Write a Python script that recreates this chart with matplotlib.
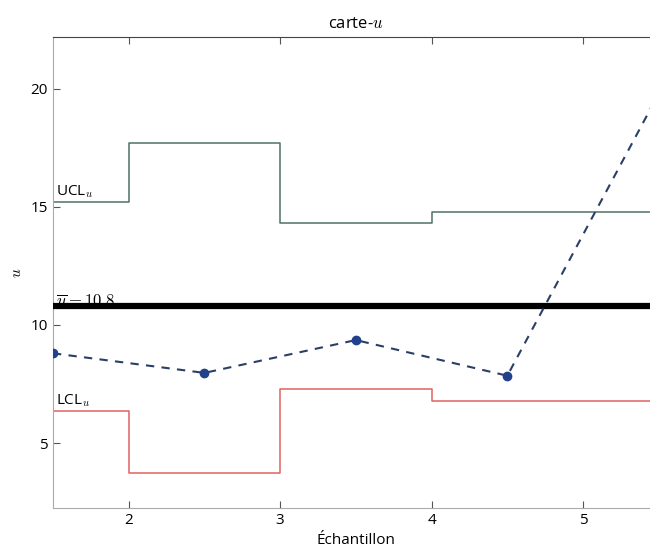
import matplotlib
matplotlib.use("Agg")
import matplotlib.pyplot as plt
import numpy as np

plt.rcParams['font.family'] = ['Open Sans', 'DejaVu Sans']
plt.rcParams['mathtext.fontset'] = 'cm'

# ── données ──────────────────────────────────────────────────────────────
echantillons = [1.5, 2.5, 3.5, 4.5, 5.5]
u_valeurs    = [8.8, 7.97, 9.36, 7.85, 19.8]
ucl          = [15.2, 17.7, 14.3, 14.8, 14.8]
lcl          = [6.35, 3.75, 7.3, 6.8, 6.8]
u_barre      = 10.8

x_ticks = [2, 3, 4, 5]
y_ticks = [5, 10, 15, 20]

# ── figure ───────────────────────────────────────────────────────────────
fig = plt.figure(figsize=(6.5, 5.53), dpi=100)
ax = fig.add_axes([0.0815, 0.0814, 0.932, 0.852])

ax.step(echantillons, ucl, where="mid", color="#4f7268", lw=1.1, zorder=2)
ax.step(echantillons, lcl, where="mid", color="#e0625f", lw=1.1, zorder=2)
ax.axhline(u_barre, color="black", lw=4.5, zorder=3)
ax.plot(echantillons, u_valeurs, ls="--", dashes=(4, 3.5), color="#2b3f66", lw=1.5,
        marker="o", ms=6, mfc="#21428a", mec="#21428a", zorder=4)

ax.text(1.52, ucl[0] + 0.1, "UCL$_u$", fontsize=11, ha="left", va="bottom", zorder=1)
ax.text(1.52, u_barre - 0.2, r"$\overline{u}=10.8$", fontsize=12, ha="left", va="bottom", zorder=1)
ax.text(1.52, lcl[0] + 0.1, "LCL$_u$", fontsize=11, ha="left", va="bottom", zorder=1)

ax.set_xlim(1.5, 5.5)
ax.set_ylim(2.25, 22.2)
ax.set_xticks(x_ticks)
ax.set_yticks(y_ticks)
ax.tick_params(direction="in", top=True, right=True, length=5, labelsize=11,
               color="#555555")
for side in ["left", "bottom"]:
    ax.spines[side].set_color("#aaaaaa")
ax.spines["top"].set_color("#444444")

ax.set_title("carte-$u$", fontsize=12)
ax.set_xlabel("Échantillon", fontsize=11)
ax.set_ylabel("$u$", fontsize=11)

fig.savefig("out.png", dpi=100)
